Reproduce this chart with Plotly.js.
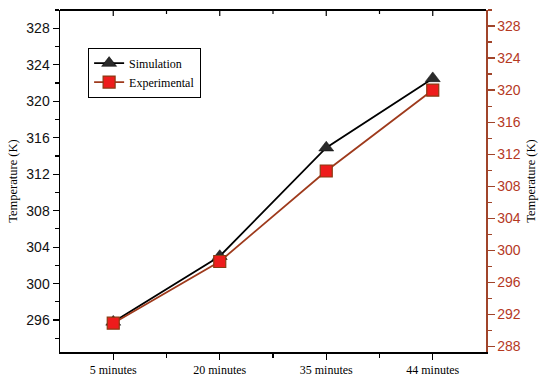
<!DOCTYPE html>
<html>
<head>
<meta charset="utf-8">
<script src="https://cdn.plot.ly/plotly-3.0.1.min.js"></script>
<style>html,body{margin:0;padding:0;background:#fff;}#chart{width:550px;height:379px;}</style>
</head>
<body>
<div id="chart"></div>
<script>
var categories = ["5 minutes", "20 minutes", "35 minutes", "44 minutes"];
var simulation = [295.8, 303.0, 314.9, 322.5];
var experimental = [290.9, 298.6, 309.9, 320.0];
var leftTicks = [296, 300, 304, 308, 312, 316, 320, 324, 328];
var rightTicks = [288, 292, 296, 300, 304, 308, 312, 316, 320, 324, 328];

var xs = categories.map(function(c, i){ return i; });
var minorXs = [0.5, 1.5, 2.5];
var red = "#b5391f";

var traces = [
  {
    x: xs, y: simulation, name: "Simulation", type: "scatter", mode: "lines+markers",
    xaxis: "x", yaxis: "y",
    line: {color: "#000000", width: 1.8},
    marker: {symbol: "triangle-up", size: 13, color: "#2b2b2b", line: {color: "#000", width: 0.5}}
  },
  {
    x: xs, y: experimental, name: "Experimental", type: "scatter", mode: "lines+markers",
    xaxis: "x", yaxis: "y2",
    line: {color: "#9e3a1c", width: 1.8},
    marker: {symbol: "square", size: 12, color: "#ee1c1c", line: {color: "#8a3a12", width: 1.2}}
  }
];

var plotH = 379 - 10 - 27;
var shapes = [{type: "line", xref: "paper", yref: "paper", x0: 0, x1: 1, y0: 1, y1: 1, layer: "above", line: {color: "#000", width: 2}}];
xs.forEach(function(v){
  shapes.push({type: "line", xref: "x", yref: "paper", x0: v, x1: v, y0: 1, y1: 1 - 6 / plotH, line: {color: "#000", width: 1.2}});
});
minorXs.forEach(function(v){
  shapes.push({type: "line", xref: "x", yref: "paper", x0: v, x1: v, y0: 1, y1: 1 - 4 / plotH, line: {color: "#000", width: 1.2}});
});

var layout = {
  width: 550, height: 379,
  margin: {l: 60, r: 64, t: 10, b: 27},
  paper_bgcolor: "#ffffff", plot_bgcolor: "#ffffff",
  showlegend: true,
  shapes: shapes,
  legend: {
    x: 0.066, y: 0.89, xanchor: "left", yanchor: "top",
    bordercolor: "#000", borderwidth: 1, bgcolor: "#fff",
    font: {family: "Liberation Serif, Times New Roman, serif", size: 12, color: "#000"},
    tracegroupgap: 0, itemwidth: 30
  },
  xaxis: {
    range: [-0.5, 3.5], tickmode: "array", tickvals: xs, ticktext: categories,
    showgrid: false, zeroline: false, showline: true, linecolor: "#000", linewidth: 1.5,
    ticks: "outside", ticklen: 6, tickwidth: 1.2, tickcolor: "#000",
    minor: {tickmode: "array", tickvals: minorXs, ticks: "outside", ticklen: 4, tickcolor: "#000", showgrid: false},
    tickfont: {family: "Liberation Serif, Times New Roman, serif", size: 12, color: "#000"}
  },
  yaxis: {
    range: [292.5, 330], tickmode: "array", tickvals: leftTicks,
    showgrid: false, zeroline: false, showline: true, linecolor: "#000", linewidth: 1.5,
    ticks: "outside", ticklen: 6, tickwidth: 1.2, tickcolor: "#000",
    minor: {dtick: 2, tick0: 0, ticks: "outside", ticklen: 4, tickcolor: "#000", showgrid: false},
    tickfont: {family: "Liberation Sans, Arial, sans-serif", size: 14, color: "#111"},
    title: {text: "Temperature (K)", standoff: 6, font: {family: "Liberation Serif, Times New Roman, serif", size: 12.5, color: "#000"}}
  },
  yaxis2: {
    range: [287.3, 330], overlaying: "y", side: "right", anchor: "x",
    tickmode: "array", tickvals: rightTicks,
    showgrid: false, zeroline: false, showline: true, linecolor: "#a0442a", linewidth: 1.5,
    ticks: "outside", ticklen: 7, tickwidth: 1.2, tickcolor: "#a0442a",
    minor: {dtick: 2, tick0: 0, ticks: "outside", ticklen: 4, tickcolor: "#a0442a", showgrid: false},
    tickfont: {family: "Liberation Sans, Arial, sans-serif", size: 14, color: red},
    title: {text: "Temperature (K)", standoff: 6, font: {family: "Liberation Serif, Times New Roman, serif", size: 12.5, color: "#000"}}
  }
};

Plotly.newPlot("chart", traces, layout, {displayModeBar: false, staticPlot: true});
</script>
</body>
</html>
